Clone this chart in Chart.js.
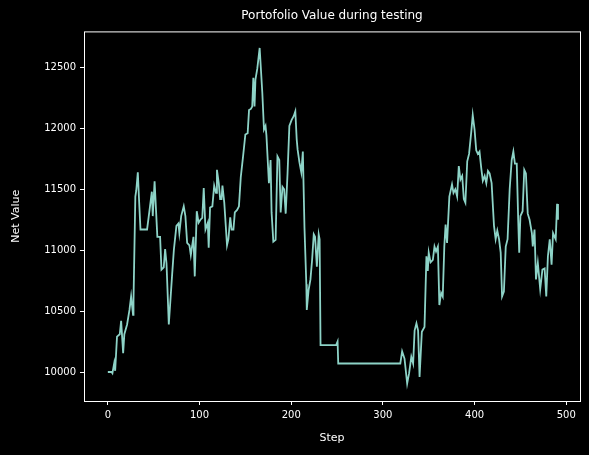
<!DOCTYPE html>
<html>
<head>
<meta charset="utf-8">
<script src="https://cdn.jsdelivr.net/npm/chart.js@4"></script>
<style>
  html, body { margin: 0; padding: 0; background: #000; }
  #wrap { width: 589px; height: 455px; }
</style>
</head>
<body>
<div id="wrap"><canvas id="grafico"></canvas></div>
<script>
// valores (passo, valor líquido)
const passos = [0, 4, 5, 7, 8, 10, 13, 14.5, 16.7, 18, 21, 23.6, 25.4, 27.5, 28, 30, 31, 32.7, 34, 35.6,
    42.8, 46, 48, 49, 51, 54, 57, 58.5, 61, 62.5, 64, 66.5, 70, 72, 74.8, 77, 78, 80, 82.8, 84.6,
    86.5, 89, 90.5, 93.4, 94.8, 97, 99, 101, 103, 104.6, 106.5, 109, 110, 111.5, 114, 116, 118, 119, 121, 122.5,
    124, 125, 127, 130, 131.5, 133.5, 135, 137, 138.5, 141, 143, 145, 147.5, 150, 152.5, 154, 156, 157.5, 158.7, 160,
    161, 163, 165.6, 168.5, 170.3, 172, 173, 175.7, 177.5, 178.6, 180.5, 183, 185, 187, 188.5, 190.5, 192.3, 194, 196, 198,
    200.5, 202.7, 204.5, 206, 207, 209, 211, 212.7, 214.5, 216.5, 217, 219, 221, 222.8, 224.6, 226, 228, 230, 231, 232,
    249, 250.6, 251.3, 319, 321, 323.6, 326.5, 328.6, 331, 333, 334.6, 336.6, 338.4, 340, 342.5, 345.4, 347.5, 349, 350, 352,
    354.5, 356.3, 358, 360, 361.6, 363.5, 365.3, 367, 368.4, 370, 372.5, 375.4, 377, 379, 381, 382.8, 384.6, 386.5, 388.3, 390,
    392, 394, 396.5, 398, 400, 401.8, 403.6, 405.4, 407.2, 409, 411, 412.8, 414.6, 416.4, 418.6, 421.2, 423, 424.8, 426.7, 428.5,
    430, 432, 434, 436, 438.3, 440.5, 442.3, 444, 446, 447.6, 448.7, 450, 452.4, 454.2, 456, 458, 460, 462.5, 463.5, 465.4,
    467, 469, 471.6, 474, 476.4, 478.2, 480, 482, 484, 485.6, 488.5, 490, 491]
const valores = [10000, 10000, 9990, 10075, 10010, 10290, 10310, 10420, 10155, 10310, 10390, 10510, 10620, 10470, 10590, 11440, 11490, 11640, 11420, 11170,
    11170, 11360, 11480, 11280, 11565, 11110, 11110, 10840, 10860, 11010, 10890, 10390, 10785, 11000, 11200, 11220, 11140, 11280, 11360, 11280,
    11060, 11040, 10960, 11110, 10785, 11320, 11225, 11250, 11265, 11510, 11170, 11225, 11020, 11350, 11360, 11530, 11470, 11660, 11550, 11420,
    11420, 11530, 11390, 11040, 11090, 11270, 11170, 11170, 11310, 11330, 11360, 11600, 11770, 11950, 11960, 12150, 12160, 12180, 12415, 12180,
    12400, 12490, 12660, 12290, 11990, 12020, 11940, 11550, 11740, 11310, 11070, 11085, 11770, 11740, 11310, 11520, 11500, 11300, 11630, 12020,
    12070, 12100, 12140, 11910, 11825, 11720, 11640, 11810, 11180, 10720, 10510, 10675, 10760, 10920, 11130, 11110, 10865, 11130, 11090, 10220,
    10220, 10250, 10070, 10070, 10170, 10110, 9905, 9990, 10125, 10070, 10340, 10400, 10340, 9960, 10330, 10370, 10950, 10830, 10980, 10900,
    10920, 11030, 10990, 11030, 10550, 10650, 10620, 11030, 11210, 11060, 11440, 11540, 11470, 11500, 11440, 11690, 11580, 11610, 11420, 11390,
    11730, 11790, 11980, 12110, 11990, 11820, 11790, 11810, 11680, 11570, 11610, 11550, 11650, 11630, 11550, 11200, 11090, 11160, 11090, 10980,
    10620, 10660, 11030, 11090, 11500, 11740, 11810, 11710, 11710, 11250, 10980, 11280, 11320, 11660, 11630, 11300, 11250, 11140, 11030, 11170,
    10760, 10895, 10680, 10840, 10850, 10620, 10950, 11090, 10880, 11140, 11090, 11380, 11250]
const ticksX = [0, 100, 200, 300, 400, 500]
const ticksY = [10000, 10500, 11000, 11500, 12000, 12500]

const fundoPreto = {
    id: 'fundoPreto',
    beforeDraw(chart) {
        const ctx = chart.ctx
        ctx.save()
        ctx.fillStyle = '#000'
        ctx.fillRect(0, 0, chart.width, chart.height)
        ctx.restore()
    }
}

const molduraBranca = {
    id: 'molduraBranca',
    afterDatasetsDraw(chart) {
        const a = chart.chartArea
        const ctx = chart.ctx
        ctx.save()
        ctx.strokeStyle = '#fff'
        ctx.lineWidth = 1
        ctx.strokeRect(a.left + 0.5, a.top + 0.5, a.right - a.left, a.bottom - a.top)
        ctx.restore()
    }
}

const fonte = { family: 'DejaVu Sans', size: 10 }

function eixo(min, max, ticks, titulo, larguraFixa, vertical, padTitulo) {
    return {
        type: 'linear',
        min: min,
        max: max,
        afterBuildTicks: s => { s.ticks = ticks.map(v => ({ value: v })) },
        afterFit: s => { if (vertical) s.width = larguraFixa; else s.height = larguraFixa },
        ticks: { color: '#fff', font: fonte, padding: 4, autoSkip: false, maxRotation: 0,
            callback: v => String(v) },
        grid: { drawOnChartArea: false, color: '#fff', tickLength: 4, tickWidth: 1 },
        border: { display: false },
        title: { display: true, text: titulo, color: '#fff', font: { family: 'DejaVu Sans', size: 11 }, padding: padTitulo }
    }
}

Chart.defaults.color = '#fff'
new Chart(document.getElementById('grafico'), {
    type: 'line',
    data: {
        datasets: [{
            label: 'Net Value',
            data: passos.map((p, i) => ({ x: p, y: valores[i] })),
            borderColor: '#8dd3c7',
            borderWidth: 1.8,
            pointRadius: 0,
            tension: 0
        }]
    },
    options: {
        responsive: true,
        maintainAspectRatio: false,
        animation: false,
        layout: { padding: { left: 0, right: 9, top: 0, bottom: 0 } },
        plugins: {
            legend: { display: false },
            tooltip: { enabled: false },
            title: {
                display: true,
                fullSize: false,
                text: 'Portofolio Value during testing',
                color: '#fff',
                font: { family: 'DejaVu Sans', size: 12, weight: 'normal' },
                padding: { top: 9, bottom: 8 }
            }
        },
        scales: {
            x: eixo(-26, 515, ticksX, 'Step', 54, false, { top: 2, bottom: 10 }),
            y: eixo(9762, 12796, ticksY, 'Net Value', 84, true, { top: 10, bottom: 2 })
        }
    },
    plugins: [fundoPreto, molduraBranca]
})
</script>
</body>
</html>
